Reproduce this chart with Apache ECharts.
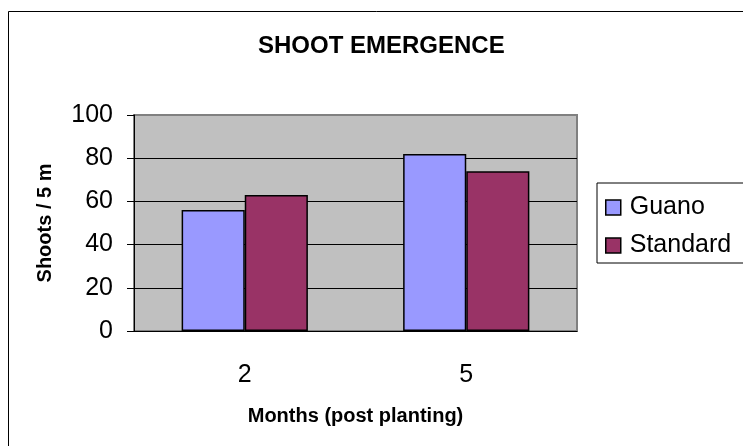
<!DOCTYPE html>
<html>
<head>
<meta charset="utf-8">
<script src="https://cdn.jsdelivr.net/npm/echarts@6/dist/echarts.min.js"></script>
<style>
  html, body { margin: 0; padding: 0; background: #fff; }
  #shootChart { width: 743px; height: 446px; }
</style>
</head>
<body>
<div id="shootChart"></div>
<script>
// data
const months = ['2', '5'];
const guano = [56, 82];
const standard = [63, 74];
const seriesNames = ['Guano', 'Standard'];

const font = 'Liberation Sans, Arial, sans-serif';

const myChart = echarts.init(document.getElementById('shootChart'));
const option = {
  backgroundColor: '#fff',
  animation: false,
  textStyle: { fontFamily: font },
  title: {
    text: 'SHOOT EMERGENCE',
    left: 258,
    top: 34,
    padding: 0,
    textStyle: { fontSize: 24, fontWeight: 'bold', color: '#000', fontFamily: font }
  },
  // chart area border (runs off right/bottom)
  graphic: [{
    type: 'rect',
    z: -10,
    shape: { x: 8.5, y: 11.5, width: 900, height: 600 },
    style: { fill: 'none', stroke: '#000', lineWidth: 1 }
  }],
  legend: {
    orient: 'vertical',
    left: 597,
    top: 183,
    padding: [12, 60, 5, 8],
    itemGap: 13,
    itemWidth: 15,
    itemHeight: 15,
    icon: 'rect',
    backgroundColor: '#fff',
    borderColor: '#000',
    borderWidth: 1,
    borderRadius: 0,
    data: seriesNames,
    itemStyle: { borderColor: '#000', borderWidth: 1.5 },
    textStyle: { fontSize: 25, color: '#000', fontFamily: font, padding: [0, 0, 0, 4] }
  },
  grid: {
    left: 134,
    right: 166,
    top: 115,
    bottom: 115,
    show: true,
    backgroundColor: '#C0C0C0',
    borderColor: '#808080',
    borderWidth: 2
  },
  xAxis: {
    type: 'category',
    data: months,
    name: 'Months (post planting)',
    nameLocation: 'middle',
    nameGap: 75,
    nameTextStyle: { fontSize: 20, fontWeight: 'bold', color: '#000', fontFamily: font },
    axisLine: { lineStyle: { color: '#000', width: 1 } },
    axisTick: { length: 7, lineStyle: { color: '#000' } },
    axisLabel: { fontSize: 25, color: '#000', margin: 32, fontFamily: font }
  },
  yAxis: {
    type: 'value',
    min: 0,
    max: 100,
    interval: 20,
    name: 'Shoots / 5 m',
    nameLocation: 'middle',
    nameRotate: 90,
    nameGap: 79,
    nameTextStyle: { fontSize: 20, fontWeight: 'bold', color: '#000', fontFamily: font },
    axisLine: { show: true, lineStyle: { color: '#000', width: 1 } },
    axisTick: { show: true, length: 7, lineStyle: { color: '#000' } },
    axisLabel: { fontSize: 25, color: '#000', margin: 21, fontFamily: font },
    splitLine: {
      show: true,
      showMaxLine: false,
      lineStyle: { color: '#000', width: 1 }
    }
  },
  series: [
    {
      name: seriesNames[0],
      type: 'bar',
      data: guano,
      barGap: '0%',
      barCategoryGap: '43%',
      itemStyle: { color: '#9999FF', borderColor: '#000', borderWidth: 1.5 }
    },
    {
      name: seriesNames[1],
      type: 'bar',
      data: standard,
      barGap: '0%',
      barCategoryGap: '43%',
      itemStyle: { color: '#993366', borderColor: '#000', borderWidth: 1.5 }
    }
  ]
};
myChart.setOption(option);
</script>
</body>
</html>
